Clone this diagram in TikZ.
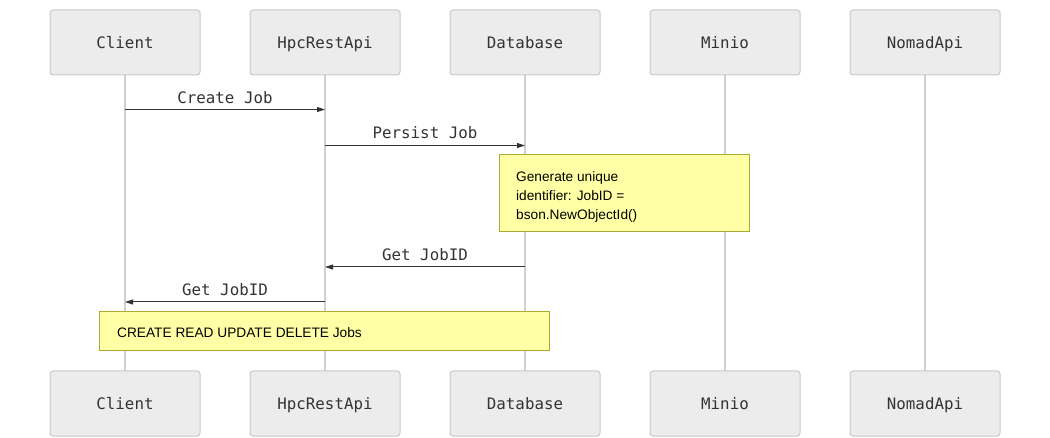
\documentclass[tikz,border=0pt]{standalone}
\usepackage{fontspec}
\setmainfont{Liberation Sans}
\newfontfamily\monofont{DejaVu Sans Mono}
\usetikzlibrary{arrows.meta}
\definecolor{actfill}{HTML}{ECECEC}
\definecolor{actdraw}{HTML}{C8C8C8}
\definecolor{lifecol}{HTML}{D0D0D0}
\definecolor{notefill}{HTML}{FFFFA5}
\definecolor{notedraw}{HTML}{AAAA33}
\definecolor{msgcol}{HTML}{333333}
\tikzset{
  actor/.style={draw=actdraw, fill=actfill, line width=1pt, rounded corners=3pt,
    minimum width=150pt, minimum height=65pt, inner sep=0pt,
    text height=13.5pt, text depth=1.5pt,
    font=\monofont\fontsize{15.8}{18}\selectfont, text=msgcol},
  lifeline/.style={draw=lifecol, line width=1.3pt},
  msg/.style={draw=msgcol, line width=1pt, -{Triangle[length=8pt,width=5pt]}},
  msglabel/.style={font=\monofont\fontsize{15.8}{18}\selectfont, text=msgcol, inner sep=0pt,
    text height=11.5pt, text depth=3.5pt},
  note/.style={draw=notedraw, fill=notefill, line width=1pt},
  notetext/.style={font=\fontsize{13.7}{19}\selectfont, text=black, inner sep=0pt, align=left, anchor=north west},
}
\begin{document}
\begin{tikzpicture}[x=1pt,y=-1pt]
\useasboundingbox (0,0) rectangle (1050,438);
% lifelines coordinates
\foreach \n/\x in {cl/125,hp/325,db/525,mi/725,no/925}{
  \coordinate (\n t) at (\x,75);
  \coordinate (\n b) at (\x,371);
}
\foreach \n in {cl,hp,db,mi,no}{
  \draw[lifeline] (\n t) -- (\n b);
}
% actors top
\node[actor] (clT) at (125,42.5) {Client};
\node[actor] (hpT) at (325,42.5) {HpcRestApi};
\node[actor] (dbT) at (525,42.5) {Database};
\node[actor] (miT) at (725,42.5) {Minio};
\node[actor] (noT) at (925,42.5) {NomadApi};
% actors bottom
\node[actor] (clB) at (125,403.5) {Client};
\node[actor] (hpB) at (325,403.5) {HpcRestApi};
\node[actor] (dbB) at (525,403.5) {Database};
\node[actor] (miB) at (725,403.5) {Minio};
\node[actor] (noB) at (925,403.5) {NomadApi};
% messages
\coordinate (m1s) at (125,109.5); \coordinate (m1e) at (325,109.5);
\draw[msg] (m1s) -- (m1e);
\node[msglabel] (l1) at (225,99.5) {Create Job};
\coordinate (m2s) at (325,145.5); \coordinate (m2e) at (525,145.5);
\draw[msg] (m2s) -- (m2e);
\node[msglabel] (l2) at (425,134.5) {Persist Job};
% note 1
\draw[note] (499.5,154.5) rectangle (749.5,231.5);
\node[notetext] (n1) at (516,171) {Generate unique\\identifier: JobID =\\bson.NewObjectId()};
\coordinate (m3s) at (525,267); \coordinate (m3e) at (325,267);
\draw[msg] (m3s) -- (m3e);
\node[msglabel] (l3) at (425,256.5) {Get JobID};
\coordinate (m4s) at (325,302); \coordinate (m4e) at (125,302);
\draw[msg] (m4s) -- (m4e);
\node[msglabel] (l4) at (225,291.5) {Get JobID};
% note 2
\draw[note] (99.5,311.5) rectangle (549.5,350.5);
\node[notetext, anchor=west] (n2) at (117,333) {CREATE READ UPDATE DELETE Jobs};
\end{tikzpicture}
\end{document}
